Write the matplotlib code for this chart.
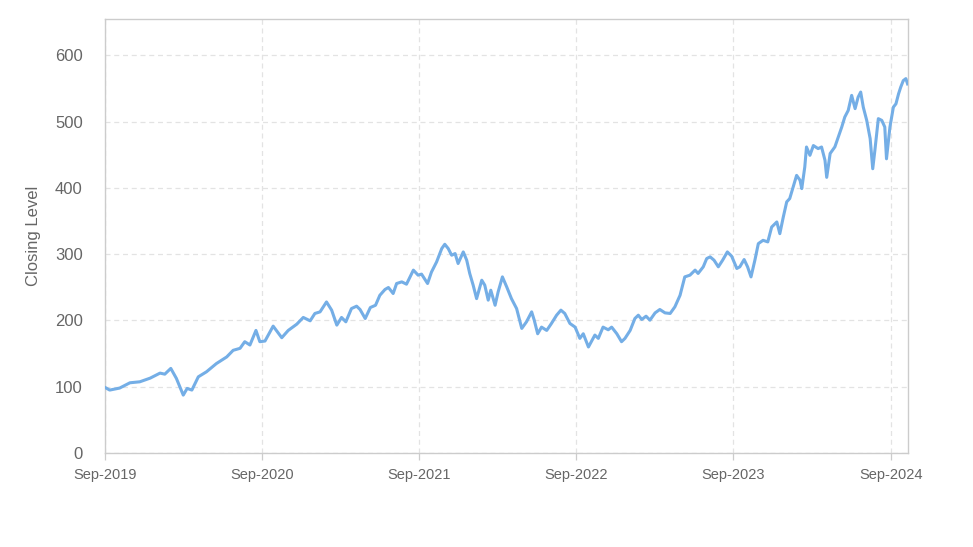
import pandas as pd
import matplotlib
matplotlib.use("Agg")
import matplotlib.pyplot as plt
import matplotlib.dates as mdates

# Closing level (index = 100 at start)
dates = [
    "2019-09-01", "2019-09-12", "2019-10-05", "2019-10-29", "2019-11-21", "2019-12-15",
    "2020-01-07", "2020-01-18", "2020-02-01", "2020-02-14", "2020-03-01", "2020-03-10",
    "2020-03-21", "2020-04-05", "2020-04-24", "2020-05-17", "2020-06-10", "2020-06-25",
    "2020-07-11", "2020-07-22", "2020-08-03", "2020-08-17", "2020-08-26", "2020-09-07",
    "2020-09-26", "2020-10-16", "2020-10-31", "2020-11-20", "2020-12-05", "2020-12-21",
    "2021-01-01", "2021-01-13", "2021-01-28", "2021-02-09", "2021-02-21", "2021-03-04",
    "2021-03-14", "2021-03-27", "2021-04-08", "2021-04-16", "2021-04-28", "2021-05-10",
    "2021-05-22", "2021-06-01", "2021-06-13", "2021-06-21", "2021-07-02", "2021-07-10",
    "2021-07-22", "2021-08-02", "2021-08-18", "2021-08-29", "2021-09-06", "2021-09-20",
    "2021-09-29", "2021-10-11", "2021-10-23", "2021-10-30", "2021-11-07", "2021-11-15",
    "2021-11-23", "2021-11-30", "2021-12-12", "2021-12-20", "2021-12-27", "2022-01-04",
    "2022-01-12", "2022-01-24", "2022-01-31", "2022-02-08", "2022-02-14", "2022-02-24",
    "2022-03-03", "2022-03-13", "2022-03-23", "2022-04-03", "2022-04-15", "2022-04-27",
    "2022-05-08", "2022-05-20", "2022-05-26", "2022-06-03", "2022-06-12", "2022-06-24",
    "2022-07-05", "2022-07-17", "2022-07-27", "2022-08-05", "2022-08-17", "2022-08-29",
    "2022-09-09", "2022-09-17", "2022-09-29", "2022-10-14", "2022-10-22", "2022-11-02",
    "2022-11-14", "2022-11-22", "2022-12-04", "2022-12-15", "2022-12-23", "2023-01-04",
    "2023-01-15", "2023-01-23", "2023-01-31", "2023-02-10", "2023-02-19", "2023-03-03",
    "2023-03-14", "2023-03-26", "2023-04-07", "2023-04-18", "2023-04-30", "2023-05-11",
    "2023-05-23", "2023-06-04", "2023-06-11", "2023-06-23", "2023-07-01", "2023-07-09",
    "2023-07-18", "2023-07-28", "2023-08-07", "2023-08-18", "2023-08-28", "2023-09-09",
    "2023-09-16", "2023-09-26", "2023-10-04", "2023-10-12", "2023-10-21", "2023-10-29",
    "2023-11-09", "2023-11-20", "2023-11-29", "2023-12-11", "2023-12-18", "2023-12-26",
    "2024-01-03", "2024-01-10", "2024-01-18", "2024-01-26", "2024-02-03", "2024-02-07",
    "2024-02-14", "2024-02-18", "2024-02-26", "2024-03-05", "2024-03-16", "2024-03-24",
    "2024-04-01", "2024-04-05", "2024-04-13", "2024-04-24", "2024-05-02", "2024-05-10",
    "2024-05-17", "2024-05-25", "2024-06-02", "2024-06-10", "2024-06-17", "2024-06-23",
    "2024-06-29", "2024-07-07", "2024-07-15", "2024-07-21", "2024-07-26", "2024-08-03",
    "2024-08-11", "2024-08-18", "2024-08-22", "2024-08-30", "2024-09-07", "2024-09-13",
    "2024-09-19", "2024-09-24", "2024-09-30", "2024-10-06", "2024-10-10",
]
closing = [
    99, 95, 98, 106, 107.5, 113,
    120.6, 119, 127.7, 112.6, 87.4, 97.5,
    95, 115, 122.6, 135, 145, 155,
    158, 168, 163, 185, 168, 169,
    191.5, 174, 185, 194.5, 204.6, 199.5,
    210.6, 213, 228, 215.6, 193, 204.6,
    198, 218, 221.6, 216.6, 203, 219.6,
    223, 238, 246.8, 249.8, 240.7, 255.8,
    258.3, 254.8, 276, 268.4, 270, 255.8,
    273, 288.4, 308.6, 315, 308.6, 298.5,
    301, 286, 303.5, 291, 271, 253.3,
    233, 260.8, 253.3, 230.7, 245.7, 223,
    243, 265.8, 250.7, 233, 218, 188,
    198, 213, 200.5, 180, 190, 185,
    195.5, 208, 215.6, 210.6, 195.5, 190,
    173, 180, 160, 178, 173, 190,
    186, 190, 180, 168, 173, 185,
    203, 208, 201.5, 206.5, 200.5, 211.5,
    216.6, 211.5, 210.6, 220.6, 238, 265.8,
    268.4, 276, 271, 281, 293.5, 296,
    291, 281, 291, 303.5, 297, 278.5,
    281, 292, 281, 265.8, 291, 316,
    321, 318.6, 341, 348.7, 331, 356,
    379, 384, 401.5, 419, 411.6, 399,
    431.6, 461.8, 449.3, 464, 459.4, 461.8,
    441.7, 416, 452, 462, 477, 492,
    507, 517, 539.7, 519.7, 537, 544.7,
    522, 502, 474.5, 429, 456.8, 504.6,
    502, 492, 444, 492, 522, 527,
    542, 552, 562, 565, 557,
]
tick_dates = ["2019-09-01", "2020-09-01", "2021-09-01", "2022-09-01", "2023-09-01", "2024-09-01"]
y_ticks = [0, 100, 200, 300, 400, 500, 600]

plt.rcParams['font.family'] = ['Liberation Sans', 'DejaVu Sans']

x = pd.to_datetime(dates)

fig = plt.figure(figsize=(9.73, 5.47), dpi=100)
ax = fig.add_axes([0.1079, 0.1718, 0.8253, 0.7935])

ax.plot(x, closing, color='#74aee6', linewidth=2.2, solid_joinstyle='round', zorder=3)

ax.set_xlim(pd.Timestamp("2019-09-01"), pd.Timestamp("2024-10-11"))
ax.set_ylim(0, 655)

ax.set_xticks(pd.to_datetime(tick_dates))
ax.xaxis.set_major_formatter(mdates.DateFormatter("%b-%Y"))
ax.set_yticks(y_ticks)

ax.grid(True, color='#e3e3e3', linestyle=(0, (4, 3)), linewidth=0.9)
ax.set_axisbelow(True)

for s in ax.spines.values():
    s.set_color('#cccccc')
    s.set_linewidth(1.0)

ax.tick_params(axis='x', length=5, width=0.9, color='#cccccc', pad=6,
               labelsize=10.5, labelcolor='#666666')
ax.tick_params(axis='y', length=0, pad=16, labelsize=12, labelcolor='#666666')

ax.set_ylabel("Closing Level", fontsize=12, color='#666666')
ax.yaxis.set_label_coords(-0.08, 0.5)

fig.savefig("out.png", dpi=100, facecolor='white')
